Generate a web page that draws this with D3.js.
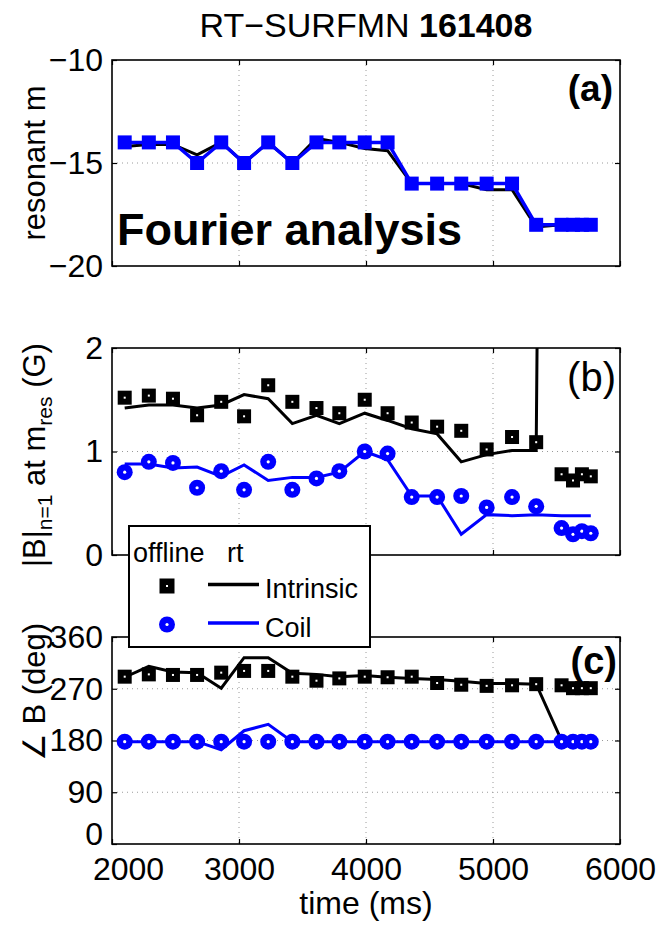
<!DOCTYPE html>
<html>
<head>
<meta charset="utf-8">
<script src="https://cdn.jsdelivr.net/npm/d3@7"></script>
<style>
  html, body { margin: 0; padding: 0; background: #fff; }
  svg { display: block; font-family: "Liberation Sans", Arial, Helvetica, sans-serif; }
</style>
</head>
<body>
<svg id="chart" width="664" height="925"></svg>
<script>
// Sample times (ms) shared by all three panels
const times = [2100, 2290, 2480, 2670, 2860, 3040, 3230, 3420, 3610, 3790, 3990,
               4170, 4360, 4560, 4750, 4950, 5150, 5340, 5540, 5630, 5700, 5770];

// (a) resonant poloidal mode number
const mOffline = [-14, -14, -14, -15, -14, -15, -14, -15, -14, -14, -14,
                  -14, -16, -16, -16, -16, -16, -18, -18, -18, -18, -18];
const mRt = [-14.2, -14.1, -14.1, -14.6, -14, -15, -14, -15, -13.8, -14, -14.3,
             -14.4, -16, -16, -16, -16.3, -16.3, -18.1, -18, -18, -18, -18];

// (b) |B| n=1 at m_res (G)
const ampIntrOffline = [1.52, 1.54, 1.51, 1.35, 1.48, 1.34, 1.64, 1.48, 1.42, 1.37, 1.50,
                        1.37, 1.28, 1.24, 1.20, 1.02, 1.14, 1.09, 0.78, 0.72, 0.78, 0.76];
const ampIntrRt = [1.42, 1.45, 1.45, 1.42, 1.45, 1.55, 1.51, 1.27, 1.35, 1.27, 1.37,
                   1.30, 1.22, 1.17, 0.90, 0.97, 1.01, 1.01, 30, 30, 30, 30];
const ampCoilOffline = [0.80, 0.90, 0.89, 0.65, 0.81, 0.63, 0.90, 0.63, 0.74, 0.81, 1.00,
                        0.98, 0.56, 0.56, 0.57, 0.46, 0.56, 0.47, 0.26, 0.20, 0.23, 0.21];
const ampCoilRt = [0.88, 0.88, 0.84, 0.85, 0.76, 0.87, 0.72, 0.75, 0.75, 0.80, 1.00,
                   0.92, 0.57, 0.57, 0.20, 0.39, 0.38, 0.39, 0.38, 0.38, 0.38, 0.38];

// (c) phase (deg)
const phIntrOffline = [291, 295, 294, 294, 298, 301, 301, 291, 284, 288, 291,
                       290, 291, 280, 277, 275, 276, 278, 276, 271, 271, 271];
const phIntrRt = [290, 309, 299, 298, 271, 324, 324, 297, 295, 291, 293,
                  290, 288, 286, 283, 279, 279, 278, 180, 180, 180, 180];
const phCoilOffline = [178, 178, 178, 178, 178, 178, 178, 178, 178, 178, 178,
                       178, 178, 178, 178, 178, 178, 178, 178, 178, 178, 178];
const phCoilRt = [178, 178, 178, 178, 164, 197, 208, 178, 178, 178, 178,
                  178, 178, 178, 178, 178, 178, 178, 178, 178, 178, 178];

// Axis ticks
const xTicks = [2000, 3000, 4000, 5000, 6000];
const mTicks = [-20, -15, -10];
const ampTicks = [0, 1, 2];
const phTicks = [0, 90, 180, 270, 360];

const BLUE = "#0000ff";
const BLACK = "#000000";
const svg = d3.select("#chart");

const X0 = 112, X1 = 620;
const x = d3.scaleLinear().domain([2000, 6000]).range([X0, X1]);
const intFmt = d3.format("d");

function makePanel(id, top, bottom, domain, yTicks, showXLabels) {
  const y = d3.scaleLinear().domain(domain).range([bottom, top]);
  const g = svg.append("g");
  const h = bottom - top;

  // dotted grid at interior ticks
  const grid = g.append("g").attr("stroke", "#9a9a9a").attr("stroke-width", 1)
    .attr("stroke-dasharray", "1,4");
  xTicks.slice(1, -1).forEach(t => {
    grid.append("line").attr("x1", x(t)).attr("x2", x(t)).attr("y1", top).attr("y2", bottom);
  });
  yTicks.slice(1, -1).forEach(t => {
    grid.append("line").attr("x1", X0).attr("x2", X1).attr("y1", y(t)).attr("y2", y(t));
  });

  const styleAxis = (sel, labels) => {
    sel.select(".domain").remove();
    sel.selectAll(".tick line").attr("stroke", "#000").attr("stroke-width", 1.2);
    sel.selectAll(".tick text")
      .attr("fill", "#000")
      .style("font-size", "32px")
      .style("font-family", "'Liberation Sans', Arial, Helvetica, sans-serif")
      .style("display", labels ? null : "none");
  };

  const leftAxis = g.append("g").attr("transform", `translate(${X0},0)`)
    .call(d3.axisLeft(y).tickValues(yTicks).tickFormat(d => intFmt(d).replace("-", "\u2212"))
      .tickSizeInner(-5).tickSizeOuter(0).tickPadding(9))
    .call(s => styleAxis(s, true));
  g.append("g").attr("transform", `translate(${X1},0)`)
    .call(d3.axisRight(y).tickValues(yTicks).tickSizeInner(-5).tickSizeOuter(0))
    .call(s => styleAxis(s, false));
  g.append("g").attr("transform", `translate(0,${top})`)
    .call(d3.axisTop(x).tickValues(xTicks).tickSizeInner(-5).tickSizeOuter(0))
    .call(s => styleAxis(s, false));
  const bottomAxis = g.append("g").attr("transform", `translate(0,${bottom})`)
    .call(d3.axisBottom(x).tickValues(xTicks).tickFormat(intFmt).tickSizeInner(-5).tickSizeOuter(0).tickPadding(13))
    .call(s => styleAxis(s, showXLabels));
  if (showXLabels) {
    // corner labels nudged apart so the lowest y label and the first x label stay clear
    bottomAxis.selectAll(".tick text").filter(d => d === xTicks[0]).attr("dx", 16);
    leftAxis.selectAll(".tick text").filter(d => d === yTicks[0]).attr("dy", "0.02em");
  }

  g.append("rect").attr("x", X0).attr("y", top).attr("width", X1 - X0).attr("height", h)
    .attr("fill", "none").attr("stroke", "#000").attr("stroke-width", 1.6);

  svg.append("clipPath").attr("id", id).append("rect")
    .attr("x", X0).attr("y", top).attr("width", X1 - X0).attr("height", h);

  const plot = svg.append("g");
  return { y, plot, clip: `url(#${id})` };
}

function drawLine(p, values, color, width) {
  const line = d3.line().x((d, i) => x(times[i])).y(d => p.y(d));
  p.plot.append("path").datum(values)
    .attr("clip-path", p.clip)
    .attr("d", line)
    .attr("fill", "none").attr("stroke", color).attr("stroke-width", width)
    .attr("stroke-linejoin", "miter");
}

function drawSquares(p, values, color, size, hole) {
  const g = p.plot.append("g");
  values.forEach((v, i) => {
    const cx = x(times[i]), cy = p.y(v);
    g.append("rect").attr("x", cx - size / 2).attr("y", cy - size / 2)
      .attr("width", size).attr("height", size).attr("fill", color);
    if (hole) g.append("rect").attr("x", cx - 1).attr("y", cy - 1)
      .attr("width", 2).attr("height", 2).attr("fill", "#fff");
  });
}

function drawCircles(p, values, color, r) {
  const g = p.plot.append("g");
  values.forEach((v, i) => {
    const cx = x(times[i]), cy = p.y(v);
    g.append("circle").attr("cx", cx).attr("cy", cy).attr("r", r).attr("fill", color);
    g.append("circle").attr("cx", cx).attr("cy", cy).attr("r", 1.6).attr("fill", "#fff");
  });
}

// Title
const title = svg.append("text").attr("x", 366).attr("y", 37)
  .attr("text-anchor", "middle").style("font-size", "34px");
title.append("tspan").text("RT\u2212SURFMN ");
title.append("tspan").attr("font-weight", "bold").text("161408");

// (a) resonant m
const pa = makePanel("clipA", 60, 266, [-20, -10], mTicks, false);
drawLine(pa, mRt, BLACK, 3);
drawLine(pa, mOffline, BLUE, 3.5);
drawSquares(pa, mOffline, BLUE, 14, false);
svg.append("text").attr("x", 613).attr("y", 101).attr("text-anchor", "end")
  .attr("font-weight", "bold").style("font-size", "37px").text("(a)");
svg.append("text").attr("x", 117).attr("y", 245)
  .attr("font-weight", "bold").style("font-size", "45px").text("Fourier analysis");

// (b) amplitude
const pb = makePanel("clipB", 348, 555, [0, 2], ampTicks, false);
drawLine(pb, ampIntrRt, BLACK, 3);
drawSquares(pb, ampIntrOffline, BLACK, 14, true);
drawLine(pb, ampCoilRt, BLUE, 3);
drawCircles(pb, ampCoilOffline, BLUE, 8);
svg.append("text").attr("x", 616).attr("y", 391).attr("text-anchor", "end")
  .style("font-size", "40px").text("(b)");

// (c) phase
const pc = makePanel("clipC", 637, 844, [0, 360], phTicks, true);
drawLine(pc, phIntrRt, BLACK, 3);
drawSquares(pc, phIntrOffline, BLACK, 14, true);
drawLine(pc, phCoilRt, BLUE, 3);
drawCircles(pc, phCoilOffline, BLUE, 8);
svg.append("text").attr("x", 617).attr("y", 674).attr("text-anchor", "end")
  .attr("font-weight", "bold").style("font-size", "38px").text("(c)");

// Y-axis titles
svg.append("text").attr("transform", "translate(45,163) rotate(-90)")
  .attr("text-anchor", "middle").style("font-size", "31px").text("resonant m");

const yb = svg.append("text").attr("transform", "translate(45,455) rotate(-90)")
  .attr("text-anchor", "middle").style("font-size", "31px");
yb.append("tspan").text("|B|");
yb.append("tspan").attr("dy", 7).style("font-size", "21px").text("n=1");
yb.append("tspan").attr("dy", -7).text(" at m");
yb.append("tspan").attr("dy", 7).style("font-size", "21px").text("res");
yb.append("tspan").attr("dy", -7).text(" (G)");

svg.append("text").attr("transform", "translate(45,692) rotate(-90)")
  .attr("text-anchor", "middle").style("font-size", "31px").text("\u2220 B (deg)");

// X-axis title
svg.append("text").attr("x", 366).attr("y", 914).attr("text-anchor", "middle")
  .style("font-size", "32px").text("time (ms)");

// Legend
const lg = svg.append("g");
lg.append("rect").attr("x", 129).attr("y", 526).attr("width", 241).attr("height", 121)
  .attr("fill", "#fff").attr("stroke", "#000").attr("stroke-width", 2);
lg.append("text").attr("x", 133).attr("y", 562).style("font-size", "27px").text("offline");
lg.append("text").attr("x", 227).attr("y", 562).style("font-size", "27px").text("rt");
const legendRows = [
  { label: "Intrinsic", color: BLACK, marker: "square", y: 586, ty: 598 },
  { label: "Coil", color: BLUE, marker: "circle", y: 624.5, ty: 637 }
];
legendRows.forEach(r => {
  if (r.marker === "square") {
    lg.append("rect").attr("x", 167 - 7.5).attr("y", r.y - 7.5).attr("width", 15).attr("height", 15).attr("fill", r.color);
    lg.append("rect").attr("x", 166).attr("y", r.y - 1).attr("width", 2).attr("height", 2).attr("fill", "#fff");
  } else {
    lg.append("circle").attr("cx", 167).attr("cy", r.y).attr("r", 8).attr("fill", r.color);
    lg.append("circle").attr("cx", 167).attr("cy", r.y).attr("r", 1.6).attr("fill", "#fff");
  }
  lg.append("line").attr("x1", 208).attr("x2", 259).attr("y1", r.y - 1.5).attr("y2", r.y - 1.5)
    .attr("stroke", r.color).attr("stroke-width", 3.5);
  lg.append("text").attr("x", 265).attr("y", r.ty).style("font-size", "27px").text(r.label);
});
</script>
</body>
</html>
